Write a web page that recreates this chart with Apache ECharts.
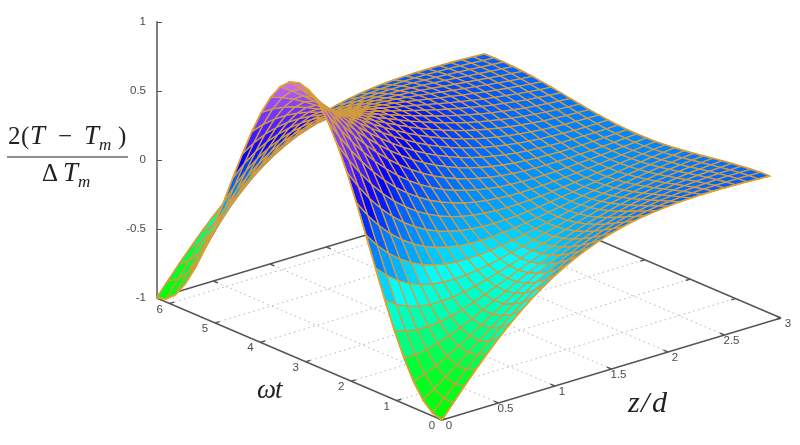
<!DOCTYPE html>
<html>
<head>
<meta charset="utf-8">
<style>html,body{margin:0;padding:0;background:#fff}#c{width:800px;height:445px}</style>
<script src="https://cdn.jsdelivr.net/npm/echarts@6/dist/echarts.min.js"></script>
</head>
<body>
<div id="c"></div>
<script>
// Tick labels
const zTicks = [0, 0.5, 1, 1.5, 2, 2.5, 3];
const tTicks = [0, 1, 2, 3, 4, 5, 6];
const zMax = 3;
const tMax = 6.283;
// Mesh sample positions
const zGrid = [0,.1,.2,.3,.4,.5,.6,.7,.8,.9,1,1.1,1.2,1.3,1.4,1.5,1.6,1.7,1.8,1.9,2,2.1,2.2,2.3,2.4,2.5,2.6,2.7,2.8,2.9];
const tGrid = [0,.209,.419,.628,.838,1.047,1.257,1.466,1.676,1.885,2.094,2.304,2.513,2.723,2.932,3.142,3.351,3.561,3.770,3.980,4.189,4.398,4.608,4.817,5.027,5.236,5.445,5.655,5.864,6.074,6.283];
// Surface height, one row per z sample, one column per t sample
const row00 = [-1,-.978,-.914,-.809,-.669,-.5,-.309,-.105,.105,.309,.5,.669,.809,.914,.978,1,.978,.914,.809,.669,.5,.309,.105,-.105,-.309,-.5,-.669,-.809,-.914,-.978,-1];
const row01 = [-.900,-.899,-.859,-.781,-.670,-.528,-.364,-.184,.004,.192,.372,.535,.675,.786,.862,.900,.899,.859,.781,.670,.528,.364,.184,-.004,-.192,-.372,-.535,-.675,-.786,-.862,-.900];
const row02 = [-.802,-.819,-.799,-.745,-.658,-.542,-.403,-.246,-.078,.093,.260,.416,.554,.667,.751,.802,.819,.799,.745,.658,.542,.403,.246,.078,-.093,-.260,-.416,-.554,-.667,-.751,-.802];
const row03 = [-.708,-.738,-.736,-.701,-.636,-.544,-.427,-.292,-.144,.011,.164,.311,.444,.558,.647,.708,.738,.736,.701,.636,.544,.427,.292,.144,-.011,-.164,-.311,-.444,-.558,-.647,-.708];
const row04 = [-.617,-.658,-.670,-.653,-.607,-.535,-.439,-.324,-.195,-.057,.083,.219,.346,.458,.550,.617,.658,.670,.653,.607,.535,.439,.324,.195,.057,-.083,-.219,-.346,-.458,-.550,-.617];
const row05 = [-.532,-.581,-.605,-.602,-.572,-.518,-.441,-.345,-.234,-.112,.014,.140,.260,.368,.460,.532,.581,.605,.602,.572,.518,.441,.345,.234,.112,-.014,-.140,-.260,-.368,-.460,-.532];
const row06 = [-.453,-.507,-.540,-.549,-.533,-.495,-.435,-.356,-.261,-.155,-.042,.073,.184,.288,.379,.453,.507,.540,.549,.533,.495,.435,.356,.261,.155,.042,-.073,-.184,-.288,-.379,-.453];
const row07 = [-.380,-.438,-.477,-.495,-.492,-.467,-.422,-.358,-.278,-.187,-.087,.016,.119,.217,.305,.380,.438,.477,.495,.492,.467,.422,.358,.278,.187,.087,-.016,-.119,-.217,-.305,-.380];
const row08 = [-.313,-.373,-.417,-.443,-.449,-.436,-.403,-.353,-.288,-.210,-.123,-.030,.064,.155,.239,.313,.373,.417,.443,.449,.436,.403,.353,.288,.210,.123,.030,-.064,-.155,-.239,-.313];
const row09 = [-.253,-.313,-.360,-.392,-.406,-.402,-.381,-.343,-.290,-.225,-.149,-.068,.017,.101,.181,.253,.313,.360,.392,.406,.402,.381,.343,.290,.225,.149,.068,-.017,-.101,-.181,-.253];
const row10 = [-.199,-.259,-.308,-.343,-.363,-.368,-.356,-.329,-.287,-.233,-.169,-.097,-.021,.056,.130,.199,.259,.308,.343,.363,.368,.356,.329,.287,.233,.169,.097,.021,-.056,-.130,-.199];
const row11 = [-.151,-.209,-.259,-.297,-.322,-.332,-.329,-.311,-.279,-.236,-.181,-.120,-.052,.017,.086,.151,.209,.259,.297,.322,.332,.329,.311,.279,.236,.181,.120,.052,-.017,-.086,-.151];
const row12 = [-.109,-.165,-.214,-.253,-.282,-.298,-.301,-.291,-.268,-.233,-.189,-.136,-.077,-.014,.048,.109,.165,.214,.253,.282,.298,.301,.291,.268,.233,.189,.136,.077,.014,-.048,-.109];
const row13 = [-.073,-.126,-.173,-.213,-.244,-.264,-.272,-.269,-.254,-.227,-.191,-.146,-.095,-.040,.017,.073,.126,.173,.213,.244,.264,.272,.269,.254,.227,.191,.146,.095,.040,-.017,-.073];
const row14 = [-.042,-.092,-.137,-.177,-.209,-.231,-.244,-.246,-.237,-.218,-.189,-.153,-.109,-.061,-.010,.042,.092,.137,.177,.209,.231,.244,.246,.237,.218,.189,.153,.109,.061,.010,-.042];
const row15 = [-.016,-.062,-.105,-.144,-.176,-.201,-.217,-.223,-.220,-.207,-.185,-.155,-.118,-.076,-.031,.016,.062,.105,.144,.176,.201,.217,.223,.220,.207,.185,.155,.118,.076,.031,-.016];
const row16 = [.006,-.036,-.077,-.114,-.146,-.172,-.190,-.200,-.201,-.194,-.178,-.154,-.123,-.088,-.048,-.006,.036,.077,.114,.146,.172,.190,.200,.201,.194,.178,.154,.123,.088,.048,.006];
const row17 = [.024,-.015,-.052,-.088,-.119,-.145,-.165,-.178,-.183,-.180,-.169,-.150,-.126,-.095,-.061,-.024,.015,.052,.088,.119,.145,.165,.178,.183,.180,.169,.150,.126,.095,.061,.024];
const row18 = [.038,.003,-.031,-.064,-.094,-.121,-.142,-.156,-.164,-.165,-.158,-.145,-.125,-.100,-.070,-.038,-.003,.031,.064,.094,.121,.142,.156,.164,.165,.158,.145,.125,.100,.070,.038];
const row19 = [.048,.018,-.013,-.044,-.073,-.098,-.120,-.136,-.146,-.150,-.147,-.138,-.122,-.102,-.077,-.048,-.018,.013,.044,.073,.098,.120,.136,.146,.150,.147,.138,.122,.102,.077,.048];
const row20 = [.056,.030,.001,-.027,-.054,-.078,-.100,-.116,-.128,-.134,-.135,-.129,-.118,-.101,-.081,-.056,-.030,-.001,.027,.054,.078,.100,.116,.128,.134,.135,.129,.118,.101,.081,.056];
const row21 = [.062,.038,.014,-.012,-.037,-.061,-.081,-.099,-.112,-.120,-.122,-.120,-.112,-.100,-.082,-.062,-.038,-.014,.012,.037,.061,.081,.099,.112,.120,.122,.120,.112,.100,.082,.062];
const row22 = [.065,.045,.023,0,-.023,-.045,-.065,-.082,-.096,-.105,-.110,-.110,-.105,-.096,-.082,-.065,-.045,-.023,0,.023,.045,.065,.082,.096,.105,.110,.110,.105,.096,.082,.065];
const row23 = [.067,.050,.031,.010,-.011,-.031,-.051,-.067,-.081,-.092,-.098,-.100,-.098,-.091,-.081,-.067,-.050,-.031,-.010,.011,.031,.051,.067,.081,.092,.098,.100,.098,.091,.081,.067];
const row24 = [.067,.053,.036,.018,-.001,-.020,-.038,-.054,-.068,-.079,-.087,-.090,-.090,-.086,-.078,-.067,-.053,-.036,-.018,.001,.020,.038,.054,.068,.079,.087,.090,.090,.086,.078,.067];
const row25 = [.066,.054,.040,.024,.008,-.010,-.026,-.042,-.056,-.067,-.075,-.081,-.082,-.080,-.075,-.066,-.054,-.040,-.024,-.008,.010,.026,.042,.056,.067,.075,.081,.082,.080,.075,.066];
const row26 = [.064,.054,.043,.029,.014,-.001,-.017,-.031,-.045,-.056,-.065,-.071,-.074,-.074,-.070,-.064,-.054,-.043,-.029,-.014,.001,.017,.031,.045,.056,.065,.071,.074,.074,.070,.064];
const row27 = [.061,.054,.044,.032,.019,.006,-.009,-.022,-.035,-.046,-.055,-.062,-.066,-.067,-.066,-.061,-.054,-.044,-.032,-.019,-.006,.009,.022,.035,.046,.055,.062,.066,.067,.066,.061];
const row28 = [.057,.052,.044,.034,.023,.011,-.002,-.014,-.026,-.037,-.046,-.054,-.058,-.061,-.060,-.057,-.052,-.044,-.034,-.023,-.011,.002,.014,.026,.037,.046,.054,.058,.061,.060,.057];
const row29 = [.053,.050,.043,.035,.026,.015,.004,-.008,-.019,-.029,-.038,-.046,-.051,-.054,-.055,-.053,-.050,-.043,-.035,-.026,-.015,-.004,.008,.019,.029,.038,.046,.051,.054,.055,.053];
const surface = [row00,row01,row02,row03,row04,row05,row06,row07,row08,row09,row10,row11,row12,row13,row14,row15,row16,row17,row18,row19,row20,row21,row22,row23,row24,row25,row26,row27,row28,row29];

// Colour ramp over the value axis
const ramp = [[-1,[0,255,0]],[-.75,[0,255,50]],[-.55,[0,255,150]],[-.3,[0,255,255]],[-.2,[0,185,255]],[-.1,[0,150,255]],[.05,[0,100,255]],[.25,[0,0,255]],[.5,[90,40,255]],[.75,[150,75,250]],[1,[225,125,235]]];
function colour(v){
  for(let k=1;k<ramp.length;k++){
    if(v<=ramp[k][0]){
      const a=ramp[k-1],b=ramp[k],f=(v-a[0])/(b[0]-a[0]);
      return 'rgb('+[0,1,2].map(n=>Math.round(a[1][n]+(b[1][n]-a[1][n])*f)).join(',')+')';
    }
  }
  return 'rgb(225,125,235)';
}

// Oblique view: floor directions expressed in the hidden x axis and the visible value axis
const view = {x0:285, xPerZ:113, xPerT:-45.4, yFloor:-1.884, yPerZ:.2464, yPerT:.1407};
function project(api,z,t,w){
  return api.coord([view.x0+view.xPerZ*z+view.xPerT*t, (w+1)+view.yFloor+view.yPerZ*z+view.yPerT*t]);
}

const INK='#4a4a4a';
const labelFont='11.5px "Liberation Sans", Arial, sans-serif';
const EDGE='#e2a028';
const lastZ=zGrid.length-1, lastT=tGrid.length-1;

// floor dotted grid
const floorData=[];
zTicks.forEach(z=>{ if(z>0&&z<zMax) floorData.push([0,z]); });
tTicks.forEach(t=>{ if(t>0) floorData.push([1,t]); });
function renderFloor(p,api){
  const a=api.value(0),v=api.value(1);
  const s=a===0?project(api,v,0,-1):project(api,0,v,-1);
  const e=a===0?project(api,v,tMax,-1):project(api,zMax,v,-1);
  return {type:'line',shape:{x1:s[0],y1:s[1],x2:e[0],y2:e[1]},style:{stroke:'#b4b4b4',lineWidth:1,lineDash:[1.5,3.5]}};
}

// frame edges and ticks: [z1,t1,z2,t2]
const frameData=[[0,0,zMax,0],[0,0,0,tMax],[0,tMax,zMax,tMax],[zMax,0,zMax,tMax]];
zTicks.forEach(z=>{ frameData.push([z,0,z,.1]); frameData.push([z,tMax,z,tMax-.1]); });
tTicks.forEach(t=>{ frameData.push([0,t,.04,t]); frameData.push([zMax,t,zMax-.04,t]); });
function renderFrame(p,api){
  const s=project(api,api.value(0),api.value(1),-1),e=project(api,api.value(2),api.value(3),-1);
  return {type:'line',shape:{x1:s[0],y1:s[1],x2:e[0],y2:e[1]},style:{stroke:'#555',lineWidth:1.4}};
}

// surface outline pieces: 0 z=first, 1 t=first, 2 z=last, 3 t=last
function renderEdge(p,api){
  const k=api.value(0);
  let ids;
  if(k===0) ids=tGrid.map((_,j)=>[0,j]);
  else if(k===1) ids=zGrid.map((_,i)=>[i,0]);
  else if(k===2) ids=tGrid.map((_,j)=>[lastZ,j]);
  else ids=zGrid.map((_,i)=>[i,lastT]);
  const pts=ids.map(c=>project(api,zGrid[c[0]],tGrid[c[1]],surface[c[0]][c[1]]));
  return {type:'polyline',shape:{points:pts},style:{fill:null,stroke:EDGE,lineWidth:k<2?1.6:2}};
}

// surface cells, far corner first
const cellData=[];
for(let i=zGrid.length-2;i>=0;i--){
  for(let j=tGrid.length-2;j>=0;j--){
    cellData.push([i,j]);
  }
}
function renderCell(p,api){
  const i=api.value(0),j=api.value(1);
  const m=(surface[i][j]+surface[i+1][j]+surface[i][j+1]+surface[i+1][j+1])/4;
  const pts=[[i,j],[i+1,j],[i+1,j+1],[i,j+1]].map(c=>project(api,zGrid[c[0]],tGrid[c[1]],surface[c[0]][c[1]]));
  return {type:'polygon',shape:{points:pts},style:{fill:colour(m),stroke:'#d29b40',lineWidth:1.3}};
}

function tickLabel(axis){
  return function(p,api){
    const v=api.value(0);
    const c=axis==='z'?project(api,v,0,-1):project(api,0,v,-1);
    const dx=axis==='z'?7:-10;
    return {type:'text',x:c[0]+dx,y:c[1]+6,style:{text:String(v),fill:INK,font:labelFont,align:'center',verticalAlign:'middle'}};
  };
}
function customSeries(data,renderItem,z){
  return {type:'custom',coordinateSystem:'cartesian2d',data:data,renderItem:renderItem,silent:true,animation:false,progressive:0,clip:false,z:z,encode:{x:0,y:1}};
}

const serif='"Liberation Serif", "DejaVu Serif", serif';
function mathText(text,x,y,size,italic){
  return {type:'text',x:x,y:y,silent:true,style:{text:text,fill:'#222',font:(italic?'italic ':'')+size+'px '+serif,align:'left',verticalAlign:'bottom'}};
}

const chart=echarts.init(document.getElementById('c'),null,{renderer:'canvas'});
chart.setOption({
  animation:false,
  backgroundColor:'#fff',
  grid:{left:157,top:22,width:640,height:276,containLabel:false},
  xAxis:{type:'value',min:0,max:640,show:false},
  yAxis:{type:'value',min:-1,max:1,interval:.5,splitLine:{show:false},
    axisLine:{show:true,onZero:false,lineStyle:{color:'#808080',width:2}},
    axisTick:{show:true,inside:true,length:5,lineStyle:{color:'#555'}},
    axisLabel:{color:INK,fontFamily:'"Liberation Sans", Arial, sans-serif',fontSize:11.5,margin:11}},
  series:[
    customSeries(floorData,renderFloor,1),
    customSeries(frameData,renderFrame,2),
    customSeries([[2],[3]],renderEdge,3),
    customSeries(cellData,renderCell,4),
    customSeries([[0],[1]],renderEdge,5),
    customSeries(zTicks.map(v=>[v]),tickLabel('z'),6),
    customSeries(tTicks.map(v=>[v]),tickLabel('t'),6)
  ],
  graphic:{elements:[
    mathText('2',8,150,25,false),
    mathText('(',21,150,25,false),
    mathText('T',30,150,27,true),
    mathText('−',58,150,25,false),
    mathText('T',84,150,27,true),
    mathText('m',99,154,17,true),
    mathText(')',118,150,25,false),
    {type:'line',shape:{x1:7,y1:157,x2:128,y2:157},style:{stroke:'#222',lineWidth:1.2}},
    mathText('Δ',42,187,25,false),
    mathText('T',63,187,27,true),
    mathText('m',78,191,17,true),
    mathText('ω',257,404,27,true),
    mathText('t',275,404,27,true),
    mathText('z',628,419,30,true),
    mathText('/',641,419,30,true),
    mathText('d',652,419,30,true)
  ]}
});
</script>
</body>
</html>
